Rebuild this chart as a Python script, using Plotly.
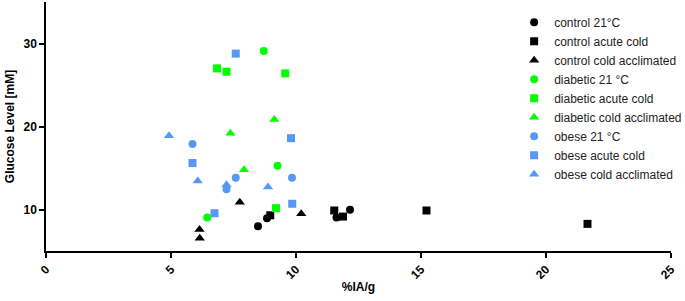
import plotly.graph_objects as go

# Data (x = %IA/g, y = glucose mM)
control_21_x = [8.48, 8.84, 11.62, 12.16]
control_21_y = [7.98, 8.95, 9.05, 9.96]
control_acute_x = [8.97, 11.53, 11.88, 15.22, 21.66]
control_acute_y = [9.30, 9.88, 9.15, 9.88, 8.27]
control_accl_x = [6.14, 6.15, 7.75, 10.21]
control_accl_y = [7.58, 6.53, 10.88, 9.48]

diabetic_21_x = [8.71, 9.26, 6.45]
diabetic_21_y = [29.1, 15.28, 9.03]
diabetic_acute_x = [6.84, 7.22, 9.57, 9.20]
diabetic_acute_y = [27.0, 26.6, 26.4, 10.16]
diabetic_accl_x = [7.38, 9.13, 7.92]
diabetic_accl_y = [19.2, 20.85, 14.8]

obese_21_x = [5.86, 7.59, 7.22, 9.84]
obese_21_y = [17.9, 13.83, 12.45, 13.83]
obese_acute_x = [7.59, 9.80, 5.86, 6.74, 9.85]
obese_acute_y = [28.78, 18.59, 15.6, 9.55, 10.69]
obese_accl_x = [4.92, 6.07, 7.22, 8.88]
obese_accl_y = [18.9, 13.42, 12.98, 12.7]

series_names = ["control 21°C", "control acute cold", "control cold acclimated",
                "diabetic 21 °C", "diabetic acute cold", "diabetic cold acclimated",
                "obese 21 °C", "obese acute cold", "obese cold acclimated"]

BLACK = "#000000"
GREEN = "#00FF00"
BLUE = "#5599F5"

series = [
    (control_21_x, control_21_y, BLACK, "circle", 8),
    (control_acute_x, control_acute_y, BLACK, "square", 8),
    (control_accl_x, control_accl_y, BLACK, "triangle-up", 9),
    (diabetic_21_x, diabetic_21_y, GREEN, "circle", 8),
    (diabetic_acute_x, diabetic_acute_y, GREEN, "square", 8),
    (diabetic_accl_x, diabetic_accl_y, GREEN, "triangle-up", 9),
    (obese_21_x, obese_21_y, BLUE, "circle", 8),
    (obese_acute_x, obese_acute_y, BLUE, "square", 8),
    (obese_accl_x, obese_accl_y, BLUE, "triangle-up", 9),
]

fig = go.Figure()
for name, (xs, ys, col, sym, sz) in zip(series_names, series):
    fig.add_trace(go.Scatter(
        x=xs, y=ys, mode="markers", name=name,
        marker=dict(color=col, symbol=sym, size=sz, line=dict(width=0)),
    ))

FONT = "Liberation Sans, Arial, sans-serif"

fig.update_layout(
    width=685, height=301,
    margin=dict(l=46, r=14, t=2, b=50, autoexpand=False),
    paper_bgcolor="white", plot_bgcolor="white",
    font=dict(family=FONT, color="#000000", size=12),
    showlegend=True,
    legend=dict(
        x=0.749, y=0.977, xanchor="left", yanchor="top",
        bgcolor="rgba(0,0,0,0)", borderwidth=0,
        font=dict(family=FONT, size=12, color="#222222"),
        itemwidth=30, tracegroupgap=0, maxheight=290,
    ),
    xaxis=dict(
        range=[0, 25], tickvals=[0, 5, 10, 15, 20, 25],
        ticks="outside", ticklen=5, tickwidth=1.5, tickcolor="black",
        showline=True, linecolor="black", linewidth=1.5,
        showgrid=False, zeroline=False, tickangle=-45, automargin=False,
        tickfont=dict(family=FONT, size=12, color="black", weight="bold"),
        title=dict(text="<b>%IA/g</b>", font=dict(family=FONT, size=12), standoff=2),
    ),
    yaxis=dict(
        range=[5, 35], tickvals=[10, 20, 30],
        ticks="outside", ticklen=5, tickwidth=1.5, tickcolor="black",
        showline=True, linecolor="black", linewidth=1.5,
        showgrid=False, zeroline=False, automargin=False,
        tickfont=dict(family=FONT, size=12, color="black", weight="bold"),
        title=dict(text="<b>Glucose Level [mM]</b>", font=dict(family=FONT, size=12), standoff=6),
    ),
)

fig.write_html("out.html", config={"displayModeBar": False},
               post_script="document.body.style.margin='0px';")
